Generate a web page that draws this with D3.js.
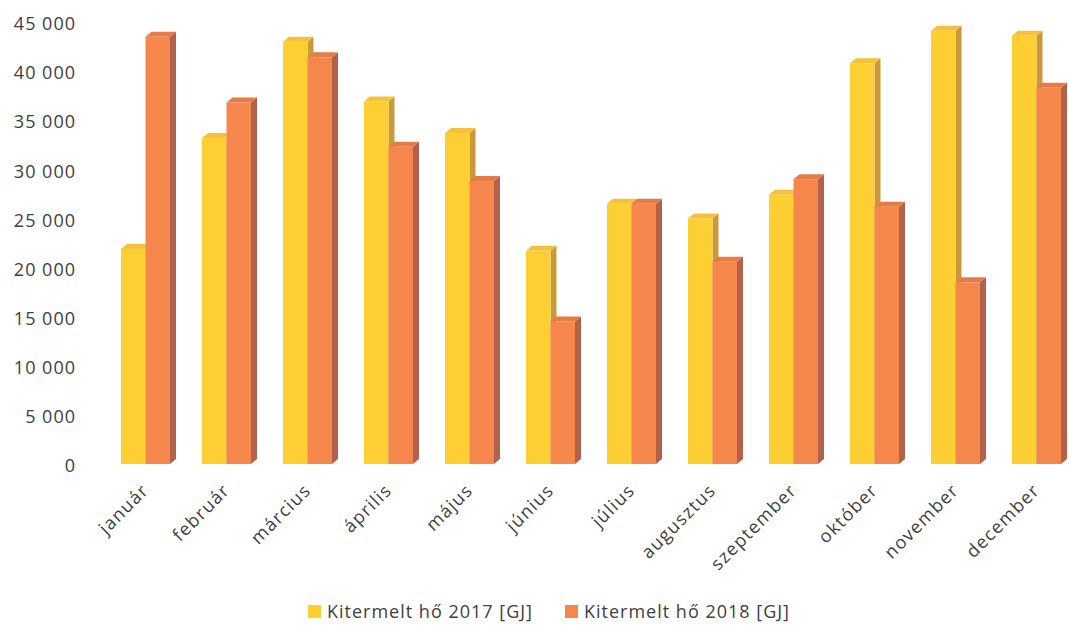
<!DOCTYPE html>
<html>
<head>
<meta charset="utf-8">
<script src="https://cdn.jsdelivr.net/npm/d3@7"></script>
<style>
  html, body { margin: 0; padding: 0; background: #ffffff; }
  svg { display: block; }
  text { font-family: "Open Sans", "Noto Sans", sans-serif; fill: #404040; }
</style>
</head>
<body>
<svg id="chart" width="1069" height="629"></svg>
<script>
// Monthly heat output, GJ
const months = ["január", "február", "március", "április", "május", "június",
                "július", "augusztus", "szeptember", "október", "november", "december"];
const heat2017 = [21900, 33200, 43000, 36900, 33700, 21700, 26500, 25000, 27400, 40800, 44100, 43600];
const heat2018 = [43500, 36800, 41400, 32300, 28800, 14500, 26500, 20600, 29000, 26200, 18500, 38300];
const seriesNames = ["Kitermelt hő 2017 [GJ]", "Kitermelt hő 2018 [GJ]"];
const yTicks = [0, 5000, 10000, 15000, 20000, 25000, 30000, 35000, 40000, 45000];

const palette = [
  { front: "#FECF32", top: "#F3C23A", side: "#C9993A" },
  { front: "#F6874C", top: "#E57B47", side: "#B2614A" }
];

const svg = d3.select("#chart");

// 3D extrusion offsets
const depthX = 6, depthY = 5;

const y = d3.scaleLinear().domain([0, 45000]).range([464, 22]);
const x = d3.scaleBand().domain(months).range([104.8, 1077.2])
  .paddingInner(0.395).paddingOuter(0.2);
const xs = d3.scaleBand().domain([0, 1]).range([0, x.bandwidth()]);

const fmt = v => d3.format(",")(v).replace(/,/g, " ");

// Y axis labels (no axis line)
const yAxis = d3.axisLeft(y).tickValues(yTicks).tickFormat(fmt).tickSize(0).tickPadding(0);
const yg = svg.append("g").attr("transform", "translate(76,2)").call(yAxis);
yg.select(".domain").remove();
yg.selectAll("text").attr("font-family", null)
  .style("font-size", "18px").style("letter-spacing", "1px").style("fill", "#404040");

// Bars
const data = months.map((m, i) => ({ month: m, values: [heat2017[i], heat2018[i]] }));
const groups = svg.append("g").selectAll("g").data(data).join("g")
  .attr("transform", d => `translate(${x(d.month)},0)`);

groups.each(function(d) {
  const g = d3.select(this);
  d.values.forEach((v, s) => {
    const x0 = xs(s), w = xs.bandwidth();
    const yt = y(v), yb = y(0);
    const c = palette[s];
    // side face
    g.append("path")
      .attr("d", `M${x0 + w},${yt} L${x0 + w + depthX},${yt - depthY} L${x0 + w + depthX},${yb - depthY} L${x0 + w},${yb} Z`)
      .attr("fill", c.side);
    // top face
    g.append("path")
      .attr("d", `M${x0},${yt} L${x0 + depthX},${yt - depthY} L${x0 + w + depthX},${yt - depthY} L${x0 + w},${yt} Z`)
      .attr("fill", c.top);
    // front face
    g.append("rect")
      .attr("x", x0).attr("y", yt)
      .attr("width", w).attr("height", yb - yt)
      .attr("fill", c.front);
  });
});

// Category labels, rotated
const xAxis = d3.axisBottom(x).tickSize(0).tickPadding(0);
const xg = svg.append("g").attr("transform", "translate(0,487)").call(xAxis);
xg.select(".domain").remove();
xg.selectAll("text")
  .attr("font-family", null)
  .style("font-size", "18px").style("letter-spacing", "1.3px").style("fill", "#404040")
  .attr("text-anchor", "end")
  .attr("dy", "0.35em")
  .attr("transform", "rotate(-45)")
  .attr("y", 0).attr("x", 0);

// Legend
const legend = svg.append("g").attr("transform", "translate(0,612)");
const legendX = [308, 565];
seriesNames.forEach((name, i) => {
  legend.append("rect").attr("x", legendX[i]).attr("y", -7)
    .attr("width", 13).attr("height", 13).attr("fill", palette[i].front);
  legend.append("text").attr("x", legendX[i] + 19).attr("y", 0).attr("dy", "0.35em")
    .style("font-size", "18px").style("letter-spacing", "1px").text(name);
});
</script>
</body>
</html>
